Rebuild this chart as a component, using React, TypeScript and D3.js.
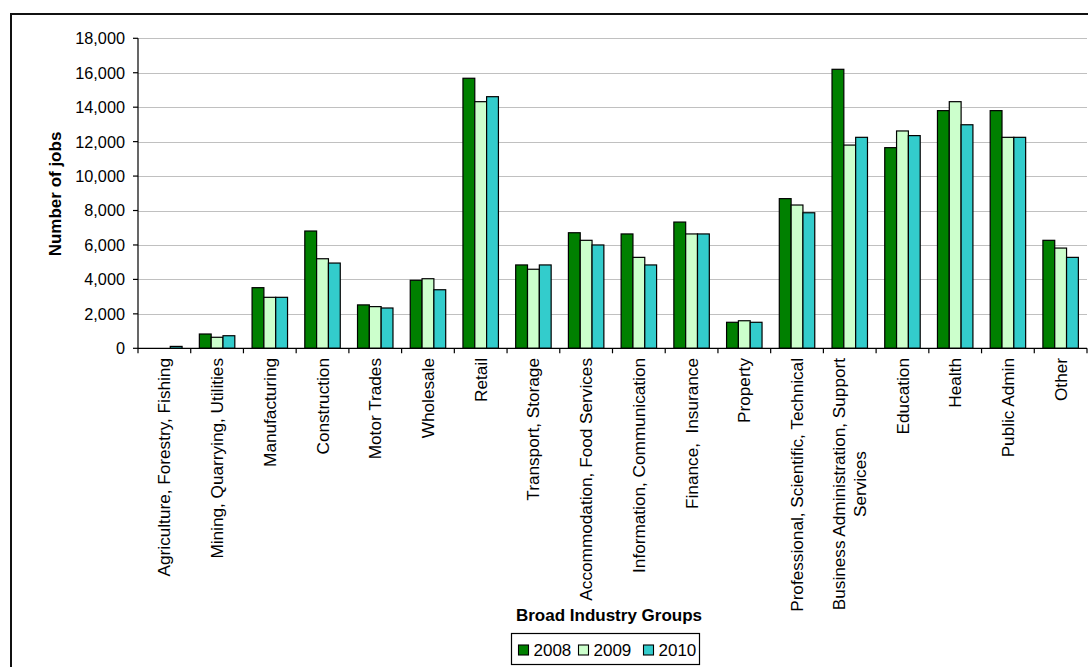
import React, { useEffect, useRef } from "react";
import * as d3 from "d3";

const categories: string[][] = [
  ["Agriculture, Forestry, Fishing"],
  ["Mining, Quarrying, Utilities"],
  ["Manufacturing"],
  ["Construction"],
  ["Motor Trades"],
  ["Wholesale"],
  ["Retail"],
  ["Transport, Storage"],
  ["Accommodation, Food Services"],
  ["Information, Communication"],
  ["Finance,  Insurance"],
  ["Property"],
  ["Professional, Scientific, Technical"],
  ["Business Administration, Support", "Services"],
  ["Education"],
  ["Health"],
  ["Public Admin"],
  ["Other"],
];

const seriesNames = ["2008", "2009", "2010"];
const values2008 = [0, 830, 3520, 6810, 2520, 3950, 15680, 4840, 6710, 6640, 7330, 1510, 8690, 16200, 11650, 13800, 13800, 6270];
const values2009 = [0, 640, 2960, 5200, 2420, 4040, 14320, 4590, 6270, 5280, 6640, 1600, 8320, 11800, 12620, 14320, 12250, 5820];
const values2010 = [110, 730, 2960, 4950, 2340, 3400, 14610, 4840, 6000, 4840, 6640, 1510, 7870, 12250, 12350, 12980, 12250, 5280];
const seriesColors = ["#008000", "#CCFFCC", "#33CCCC"];
const yTicks = [0, 2000, 4000, 6000, 8000, 10000, 12000, 14000, 16000, 18000];

const FONT = "'Liberation Sans', Arial, sans-serif";

export default function App() {
  const ref = useRef<SVGSVGElement>(null);

  useEffect(() => {
    const svg = d3.select(ref.current);
    svg.selectAll("*").remove();

    const left = 138, right = 1087, top = 38.3, bottom = 348.3;
    const series = [values2008, values2009, values2010];
    const idx = categories.map((_, i) => i);

    const x0 = d3.scaleBand<number>().domain(idx).range([left, right]).padding(0);
    const x1 = d3.scaleBand<number>().domain([0, 1, 2]).range([0, x0.bandwidth()]).paddingInner(0).paddingOuter(0.73);
    const y = d3.scaleLinear().domain([0, 18000]).range([bottom, top]);

    // outer frame
    svg.append("rect").attr("x", 11).attr("y", 14).attr("width", 1200).attr("height", 800)
      .attr("fill", "white").attr("stroke", "#111").attr("stroke-width", 2);

    // gridlines
    svg.append("g").selectAll("line").data(yTicks.filter(t => t > 0)).join("line")
      .attr("x1", left).attr("x2", right)
      .attr("y1", d => Math.round(y(d)) + 0.5).attr("y2", d => Math.round(y(d)) + 0.5)
      .attr("stroke", "#c0c0c0").attr("stroke-width", 1.2);

    // bars
    const g = svg.append("g");
    series.forEach((vals, s) => {
      g.selectAll(null).data(vals).join("rect")
        .attr("x", (_, i) => x0(i)! + x1(s)!)
        .attr("y", d => y(d))
        .attr("width", x1.bandwidth())
        .attr("height", d => bottom - y(d))
        .attr("fill", seriesColors[s])
        .attr("stroke", "#000").attr("stroke-width", 1.2);
    });

    // y axis
    const ya = svg.append("g");
    ya.append("line").attr("x1", left).attr("x2", left).attr("y1", top).attr("y2", bottom)
      .attr("stroke", "#000").attr("stroke-width", 1.2);
    ya.selectAll("line.t").data(yTicks).join("line").attr("class", "t")
      .attr("x1", left - 5).attr("x2", left).attr("y1", d => y(d)).attr("y2", d => y(d))
      .attr("stroke", "#000").attr("stroke-width", 1.2);
    ya.selectAll("text").data(yTicks).join("text")
      .attr("x", 125).attr("y", d => y(d)).attr("dy", "0.36em")
      .attr("text-anchor", "end").attr("font-family", FONT).attr("font-size", 16.3)
      .attr("fill", "#000")
      .text(d => d3.format(",")(d));

    // x axis
    const xa = svg.append("g");
    xa.append("line").attr("x1", left).attr("x2", right).attr("y1", bottom).attr("y2", bottom)
      .attr("stroke", "#000").attr("stroke-width", 1.2);
    const bounds = idx.concat([categories.length]);
    xa.selectAll("line.t").data(bounds).join("line").attr("class", "t")
      .attr("x1", i => left + i * x0.step()).attr("x2", i => left + i * x0.step())
      .attr("y1", bottom).attr("y2", bottom + 5)
      .attr("stroke", "#000").attr("stroke-width", 1.2);

    // category labels
    const catSize = 17.2;
    categories.forEach((lines, i) => {
      const cx = x0(i)! + x0.bandwidth() / 2;
      if (lines.length === 1) {
        svg.append("text")
          .attr("transform", `translate(${cx},358) rotate(-90)`)
          .attr("dy", "0.35em").attr("text-anchor", "end")
          .attr("font-family", FONT).attr("font-size", catSize)
          .style("white-space", "pre")
          .text(lines[0]);
      } else {
        const t1 = svg.append("text")
          .attr("transform", `translate(${cx - 10.5},358) rotate(-90)`)
          .attr("dy", "0.35em").attr("text-anchor", "end")
          .attr("font-family", FONT).attr("font-size", catSize)
          .text(lines[0]);
        const len = (t1.node() as SVGTextElement).getComputedTextLength();
        svg.append("text")
          .attr("transform", `translate(${cx + 10.5},${358 + len / 2}) rotate(-90)`)
          .attr("dy", "0.35em").attr("text-anchor", "middle")
          .attr("font-family", FONT).attr("font-size", catSize)
          .text(lines[1]);
      }
    });

    // axis titles
    svg.append("text").attr("transform", `translate(55,194) rotate(-90)`)
      .attr("dy", "0.35em").attr("text-anchor", "middle")
      .attr("font-family", FONT).attr("font-size", 17).attr("font-weight", "bold")
      .text("Number of jobs");
    svg.append("text").attr("x", 609).attr("y", 621)
      .attr("text-anchor", "middle")
      .attr("font-family", FONT).attr("font-size", 17).attr("font-weight", "bold")
      .text("Broad Industry Groups");

    // legend
    const lg = svg.append("g");
    lg.append("rect").attr("x", 511.5).attr("y", 633.5).attr("width", 188).attr("height", 31)
      .attr("fill", "white").attr("stroke", "#000").attr("stroke-width", 1.2);
    const itemX = [518.5, 578.5, 643.5];
    seriesNames.forEach((name, s) => {
      lg.append("rect").attr("x", itemX[s]).attr("y", 645).attr("width", 10).attr("height", 10)
        .attr("fill", seriesColors[s]).attr("stroke", "#000").attr("stroke-width", 1.1);
      lg.append("text").attr("x", itemX[s] + 15).attr("y", 656)
        .attr("font-family", FONT).attr("font-size", 17)
        .text(name);
    });
  }, []);

  return (
    <svg ref={ref} width={1088} height={667}
      style={{ position: "absolute", left: 0, top: 0, background: "white" }} />
  );
}
